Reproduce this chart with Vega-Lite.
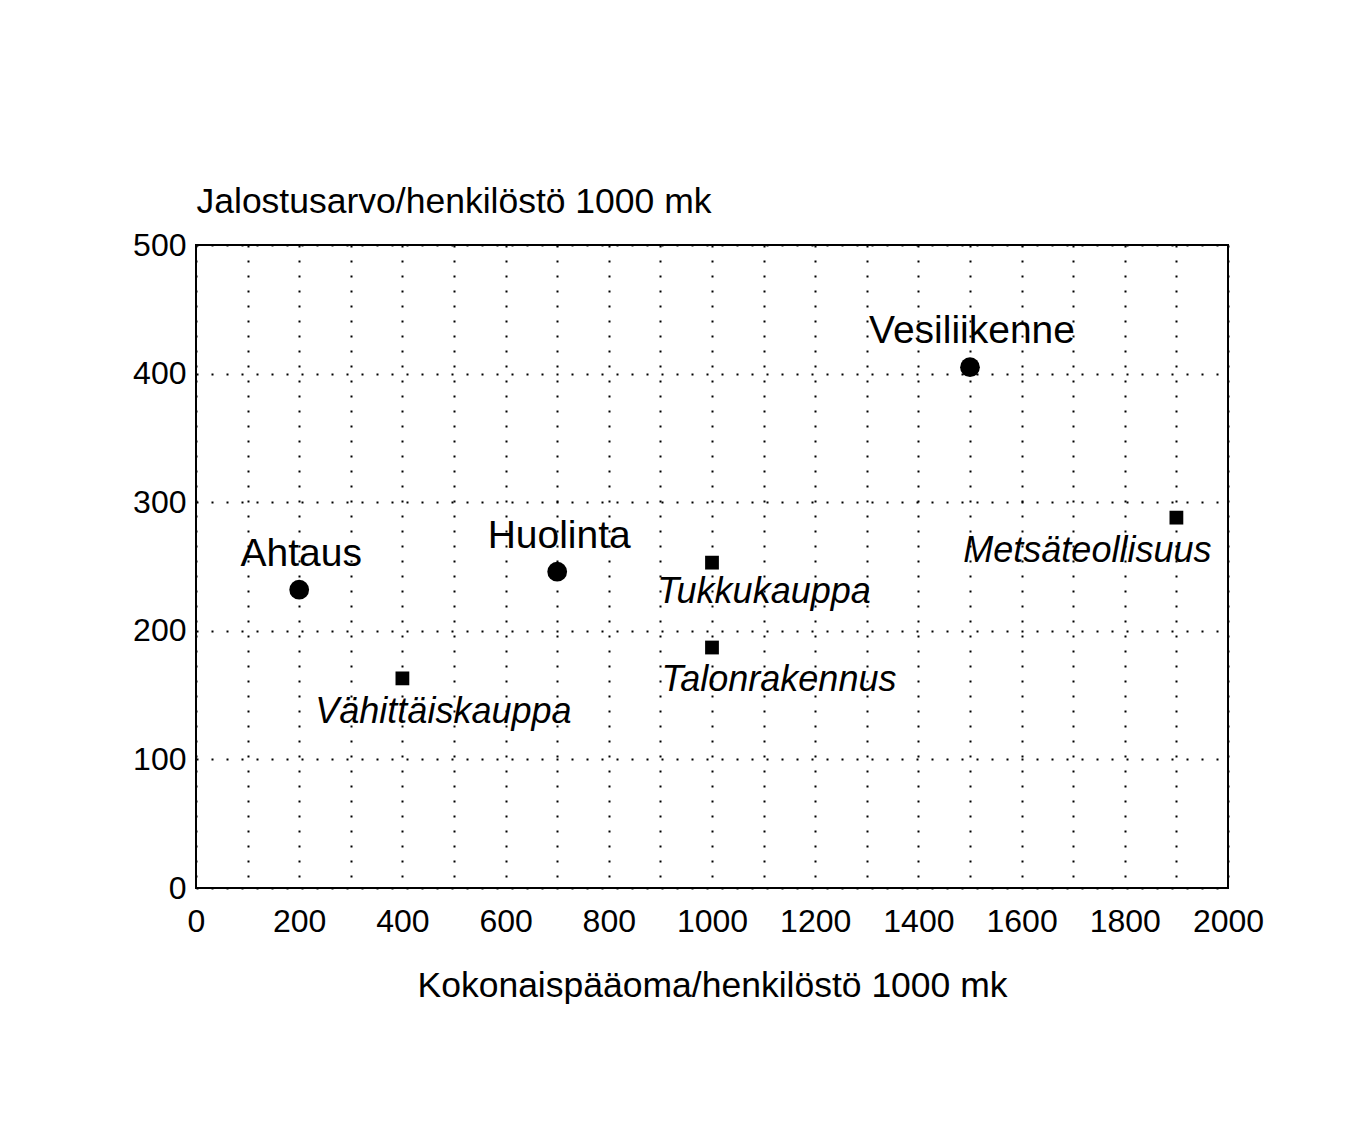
{
  "$schema": "https://vega.github.io/schema/vega-lite/v6.json",
  "width": 1032,
  "height": 643,
  "autosize": "none",
  "padding": {"left": 196, "top": 245, "right": 122, "bottom": 234},
  "background": "white",
  "config": {
    "view": {"stroke": "black", "strokeWidth": 2},
    "font": "Liberation Sans"
  },
  "data": {
    "values": [
      {"ala": "Ahtaus", "paaoma": 200, "jalostus": 232, "ryhma": "palvelu"},
      {"ala": "Huolinta", "paaoma": 700, "jalostus": 246, "ryhma": "palvelu"},
      {"ala": "Vesiliikenne", "paaoma": 1500, "jalostus": 405, "ryhma": "palvelu"},
      {"ala": "Vähittäiskauppa", "paaoma": 400, "jalostus": 163, "ryhma": "vertailu"},
      {"ala": "Tukkukauppa", "paaoma": 1000, "jalostus": 253, "ryhma": "vertailu"},
      {"ala": "Talonrakennus", "paaoma": 1000, "jalostus": 187, "ryhma": "vertailu"},
      {"ala": "Metsäteollisuus", "paaoma": 1900, "jalostus": 288, "ryhma": "vertailu"}
    ]
  },
  "encoding": {
    "x": {
      "field": "paaoma", "type": "quantitative",
      "scale": {"domain": [0, 2000], "nice": false, "zero": true},
      "axis": {
        "title": "Kokonaispääoma/henkilöstö 1000 mk",
        "values": [0,100,200,300,400,500,600,700,800,900,1000,1100,1200,1300,1400,1500,1600,1700,1800,1900,2000],
        "labelExpr": "datum.value % 200 === 0 ? datum.label : ''",
        "format": "d",
        "domain": false, "ticks": false,
        "grid": true, "gridColor": "black", "gridWidth": 2, "gridDash": [2, 13], "gridOpacity": 1,
        "labelFont": "Liberation Sans", "labelFontSize": 32, "labelColor": "black", "labelPadding": 18,
        "labelFlush": false, "labelOverlap": false,
        "titleFont": "Liberation Sans", "titleFontSize": 35.5, "titleFontWeight": "normal", "titleColor": "black",
        "titleBaseline": "alphabetic", "titleY": 108, "titleX": 516, "titleAlign": "center"
      }
    },
    "y": {
      "field": "jalostus", "type": "quantitative",
      "scale": {"domain": [0, 500], "nice": false},
      "axis": {
        "title": "Jalostusarvo/henkilöstö 1000 mk",
        "values": [0, 100, 200, 300, 400, 500],
        "domain": false, "ticks": false,
        "grid": true, "gridColor": "black", "gridWidth": 2, "gridDash": [2, 13], "gridOpacity": 1,
        "labelFont": "Liberation Sans", "labelFontSize": 32, "labelColor": "black", "labelPadding": 10,
        "labelFlush": false, "labelOverlap": false,
        "titleFont": "Liberation Sans", "titleFontSize": 35.5, "titleFontWeight": "normal", "titleColor": "black",
        "titleAngle": 0, "titleAlign": "left", "titleBaseline": "alphabetic", "titleX": 0, "titleY": -33
      }
    }
  },
  "layer": [
    {
      "transform": [{"filter": "datum.ryhma === 'palvelu'"}],
      "mark": {"type": "point", "shape": "circle", "filled": true, "color": "black", "opacity": 1, "size": 390}
    },
    {
      "transform": [{"filter": "datum.ryhma === 'vertailu'"}],
      "mark": {"type": "point", "shape": "square", "filled": true, "color": "black", "opacity": 1, "size": 190}
    },
    {
      "transform": [{"filter": "datum.ryhma === 'palvelu'"}],
      "mark": {"type": "text", "font": "Liberation Sans", "fontSize": 39, "color": "black", "align": "center", "baseline": "alphabetic", "dy": -24, "dx": 2},
      "encoding": {"text": {"field": "ala"}}
    },
    {
      "transform": [{"filter": "datum.ala === 'Vähittäiskauppa'"}],
      "mark": {"type": "text", "font": "Liberation Sans", "fontSize": 36, "fontStyle": "italic", "color": "black", "align": "center", "baseline": "alphabetic", "dy": 45, "dx": 41},
      "encoding": {"text": {"field": "ala"}}
    },
    {
      "transform": [{"filter": "datum.ala === 'Tukkukauppa'"}],
      "mark": {"type": "text", "font": "Liberation Sans", "fontSize": 36, "fontStyle": "italic", "color": "black", "align": "center", "baseline": "alphabetic", "dy": 40, "dx": 52},
      "encoding": {"text": {"field": "ala"}}
    },
    {
      "transform": [{"filter": "datum.ala === 'Talonrakennus'"}],
      "mark": {"type": "text", "font": "Liberation Sans", "fontSize": 36, "fontStyle": "italic", "color": "black", "align": "center", "baseline": "alphabetic", "dy": 43, "dx": 67},
      "encoding": {"text": {"field": "ala"}}
    },
    {
      "transform": [{"filter": "datum.ala === 'Metsäteollisuus'"}],
      "mark": {"type": "text", "font": "Liberation Sans", "fontSize": 36, "fontStyle": "italic", "color": "black", "align": "center", "baseline": "alphabetic", "dy": 44, "dx": -89},
      "encoding": {"text": {"field": "ala"}}
    }
  ]
}
